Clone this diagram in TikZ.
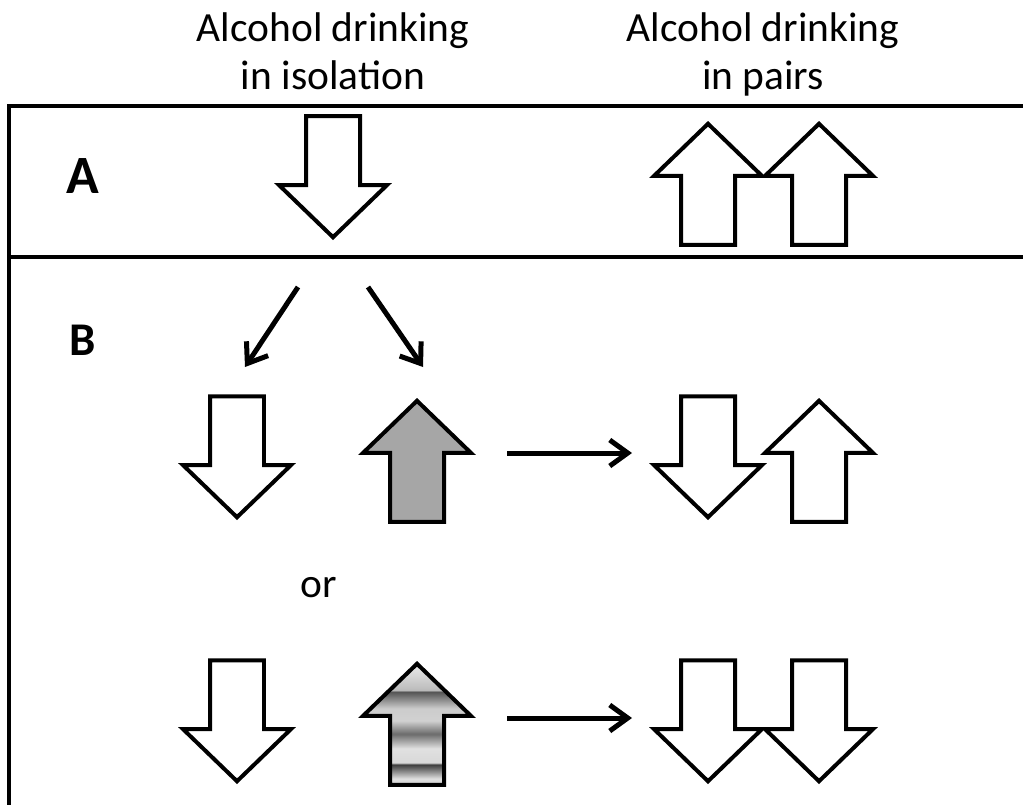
\documentclass[tikz,border=0pt]{standalone}
\usepackage{fontspec}
\setmainfont{Carlito}
\usetikzlibrary{arrows.meta, shapes.arrows, calc}
\pgfdeclareverticalshading{metal}{100bp}{color(0bp)=(black!20); color(25bp)=(black!20); color(27.5bp)=(black!12); color(30bp)=(black!40); color(33.5bp)=(black!78); color(34bp)=(black!15); color(40bp)=(black!12); color(46bp)=(black!58); color(51.5bp)=(black!18); color(56.5bp)=(black!20); color(63.5bp)=(black!68); color(64bp)=(black!28); color(65bp)=(black!25); color(75bp)=(black!8); color(100bp)=(black!8)}

\begin{document}
\begin{tikzpicture}[x=0.02cm, y=-0.02cm, every node/.style={inner sep=0pt},
  head/.style={align=center, anchor=north, font=\fontsize{23.6}{27.3}\selectfont},
  blockarrow/.style={single arrow, draw=black, line width=0.08cm, fill=white, inner xsep=0pt, inner ysep=0.5cm, minimum height=2.42cm, single arrow head extend=0.54cm, single arrow tip angle=92, anchor=tip},
  downarr/.style={blockarrow, rotate=-90},
  uparr/.style={blockarrow, rotate=90},
  link/.style={-{Straight Barb[length=0.36cm, width=0.52cm]}, line width=0.1cm},
  panelline/.style={line width=0.065cm}]
\useasboundingbox (0,0) rectangle (1023,805);
\node[head] (isol) at (333,12) {Alcohol drinking\\in isolation};
\node[head] (pairs) at (763,12) {Alcohol drinking\\in pairs};
\draw[panelline] (1023,106) -| (9,805);
\draw[panelline] (9,257) -- (1023,257);
\node[font=\bfseries\fontsize{30.7}{36}\selectfont] (labA) at (83,176) {A};
\node[font=\bfseries\fontsize{26.7}{32}\selectfont] (labB) at (83,340) {B};
\node[downarr] (dA) at (333,240) {};
\node[uparr] (uA1) at (708,121) {};
\node[uparr] (uA2) at (819,121) {};
\node[downarr] (dB1) at (237,520) {};
\node[uparr, fill=black!35] (gB1) at (417,398) {};
\node[downarr] (dR1) at (708,520) {};
\node[uparr] (uR1) at (819,398) {};
\node[font=\fontsize{23.6}{27.3}\selectfont] (orlab) at (319,588) {or};
\node[downarr] (dB2) at (237,784) {};
\node[uparr, shade, shading=metal] (mB2) at (417,661) {};
\node[downarr] (dR2a) at (708,784) {};
\node[downarr] (dR2b) at (819,784) {};
\draw[link] ($(dA.tip)+(-35,47)$) -- ($(dB1.tip)+(8,-153)$);
\draw[link] ($(dA.tip)+(35,47)$) -- ($(gB1.tip)+(6,-31)$);
\draw[link] ($(gB1.tip)+(90,55)$) -- ($(dR1.tip)+(-76,-67)$);
\draw[link] ($(mB2.tip)+(90,57)$) -- ($(dR2a.tip)+(-76,-66)$);
\end{tikzpicture}
\end{document}
